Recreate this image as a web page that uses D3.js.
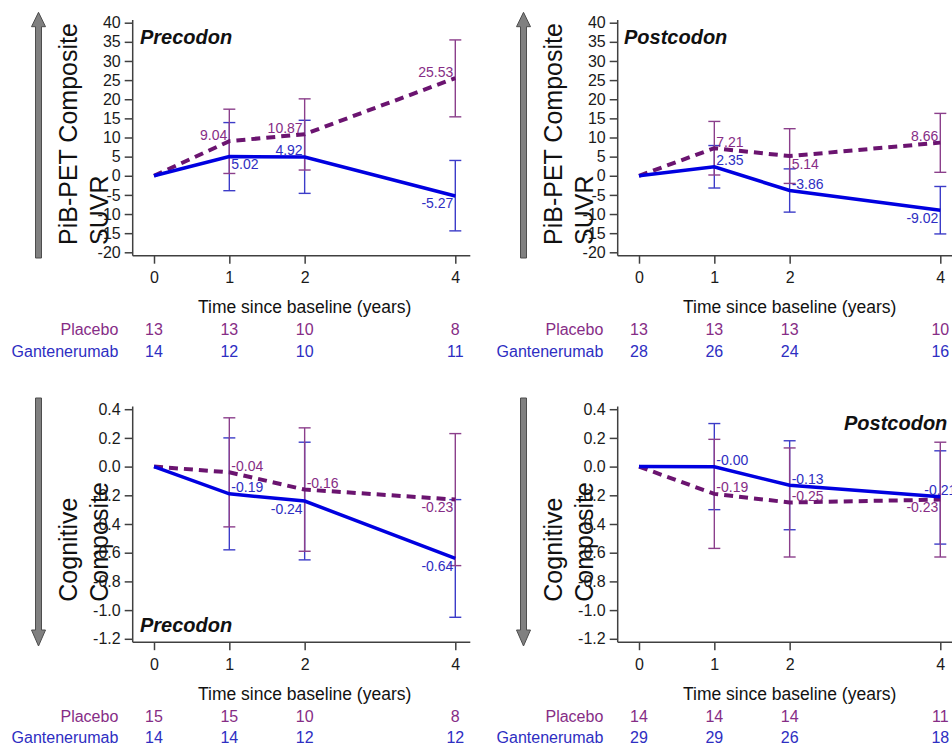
<!DOCTYPE html>
<html>
<head>
<meta charset="utf-8">
<script src="https://cdn.jsdelivr.net/npm/d3@7"></script>
<style>
  body { margin: 0; background: #fff; }
  svg text { font-family: "Liberation Sans", Arial, sans-serif; }
</style>
</head>
<body>
<div id="chart"></div>
<script>
// Time points (years since baseline)
var years = [0, 1, 2, 4];

// PiB-PET Composite SUVR, precodon
var pibPrePlacebo   = [0, 9.04, 10.87, 25.53];
var pibPrePlaceboLo = [null, 0.6, 1.5, 15.4];
var pibPrePlaceboHi = [null, 17.4, 20.1, 35.5];
var pibPreGanten    = [0, 5.02, 4.92, -5.27];
var pibPreGantenLo  = [null, -3.9, -4.6, -14.4];
var pibPreGantenHi  = [null, 13.9, 14.5, 4.0];

// PiB-PET Composite SUVR, postcodon
var pibPostPlacebo   = [0, 7.21, 5.14, 8.66];
var pibPostPlaceboLo = [null, 0.2, -2.0, 0.9];
var pibPostPlaceboHi = [null, 14.2, 12.3, 16.3];
var pibPostGanten    = [0, 2.35, -3.86, -9.02];
var pibPostGantenLo  = [null, -3.2, -9.5, -15.2];
var pibPostGantenHi  = [null, 7.9, 1.8, -2.8];

// Cognitive Composite, precodon
var cogPrePlacebo   = [0, -0.04, -0.16, -0.23];
var cogPrePlaceboLo = [null, -0.42, -0.59, -0.69];
var cogPrePlaceboHi = [null, 0.34, 0.27, 0.23];
var cogPreGanten    = [0, -0.19, -0.24, -0.64];
var cogPreGantenLo  = [null, -0.58, -0.65, -1.05];
var cogPreGantenHi  = [null, 0.20, 0.17, -0.23];

// Cognitive Composite, postcodon
var cogPostPlacebo   = [0, -0.19, -0.25, -0.23];
var cogPostPlaceboLo = [null, -0.57, -0.63, -0.63];
var cogPostPlaceboHi = [null, 0.19, 0.13, 0.17];
var cogPostGanten    = [0, -0.001, -0.13, -0.21];
var cogPostGantenLo  = [null, -0.30, -0.44, -0.54];
var cogPostGantenHi  = [null, 0.30, 0.18, 0.11];

// Numbers at risk
var pibPreNPlacebo  = [13, 13, 10, 8];
var pibPreNGanten   = [14, 12, 10, 11];
var pibPostNPlacebo = [13, 13, 13, 10];
var pibPostNGanten  = [28, 26, 24, 16];
var cogPreNPlacebo  = [15, 15, 10, 8];
var cogPreNGanten   = [14, 14, 12, 12];
var cogPostNPlacebo = [14, 14, 14, 11];
var cogPostNGanten  = [29, 29, 26, 18];

// Y axis ticks
var pibTicks = [-20, -15, -10, -5, 0, 5, 10, 15, 20, 25, 30, 35, 40];
var cogTicks = [-1.2, -1.0, -0.8, -0.6, -0.4, -0.2, 0.0, 0.2, 0.4];

var width = 952, height = 747;

var placeboLine = "#6b1470", placeboText = "#862d86", placeboBar = "#8b3f8b";
var gantenLine = "#0000e0", gantenText = "#2e2ec2", gantenBar = "#3c3cc8";

// where each value label sits next to its point: a/b = above/below, l/r/c = left/right/centre
var panels = [
    { ox: 0, oy: 0, domain: [-20, 40], ticks: pibTicks, fmt: d => d.toString(),
      title: "Precodon", titlePos: [140, 44], up: true,
      ylab: ["PiB-PET Composite", "SUVR"], ylabY: 245,
      placebo: [pibPrePlacebo, pibPrePlaceboLo, pibPrePlaceboHi], ganten: [pibPreGanten, pibPreGantenLo, pibPreGantenHi],
      nPlacebo: pibPreNPlacebo, nGanten: pibPreNGanten,
      posPlacebo: ["", "al", "al", "al"], posGanten: ["", "br", "al", "bl"] },
    { ox: 485, oy: 0, domain: [-20, 40], ticks: pibTicks, fmt: d => d.toString(),
      title: "Postcodon", titlePos: [624, 44], up: true,
      ylab: ["PiB-PET Composite", "SUVR"], ylabY: 245,
      placebo: [pibPostPlacebo, pibPostPlaceboLo, pibPostPlaceboHi], ganten: [pibPostGanten, pibPostGantenLo, pibPostGantenHi],
      nPlacebo: pibPostNPlacebo, nGanten: pibPostNGanten,
      posPlacebo: ["", "ar", "br", "al"], posGanten: ["", "ar", "ar", "bl"] },
    { ox: 0, oy: 386.5, domain: [-1.2, 0.4], ticks: cogTicks, fmt: d => d.toFixed(1),
      title: "Precodon", titlePos: [140, 632], up: false,
      ylab: ["Cognitive", "Composite"], ylabY: 215.2,
      placebo: [cogPrePlacebo, cogPrePlaceboLo, cogPrePlaceboHi], ganten: [cogPreGanten, cogPreGantenLo, cogPreGantenHi],
      nPlacebo: cogPreNPlacebo, nGanten: cogPreNGanten,
      posPlacebo: ["", "ar", "ar", "bl"], posGanten: ["", "ar", "bl", "bl"] },
    { ox: 485, oy: 386.5, domain: [-1.2, 0.4], ticks: cogTicks, fmt: d => d.toFixed(1),
      title: "Postcodon", titlePos: [844, 430], up: false,
      ylab: ["Cognitive", "Composite"], ylabY: 215.2,
      placebo: [cogPostPlacebo, cogPostPlaceboLo, cogPostPlaceboHi], ganten: [cogPostGanten, cogPostGantenLo, cogPostGantenHi],
      nPlacebo: cogPostNPlacebo, nGanten: cogPostNGanten,
      posPlacebo: ["", "ar", "ar", "bl"], posGanten: ["", "ar", "ar", "ac"] }
];

const svg = d3.select("#chart").append("svg")
    .attr("width", width)
    .attr("height", height);

svg.append("rect").attr("width", width).attr("height", height).attr("fill", "#fff");

panels.forEach(function (p) {
    var ox = p.ox, oy = p.oy;
    var x = d3.scaleLinear([0, 4], [154 + ox, 455.3 + ox]);
    var y = d3.scaleLinear(p.domain, [252.3 + oy, 22.7 + oy]);
    var axisX = 132.7 + ox, axisY = 255.7 + oy;
    var g = svg.append("g");

    // Big arrow showing direction of worsening
    var cx = 38.5 + ox, pts;
    if (p.up)
        pts = [[cx, 12.3], [cx + 7, 26.7], [cx + 3, 26.7], [cx + 3, 258], [cx - 3, 258], [cx - 3, 26.7], [cx - 7, 26.7]];
    else
        pts = [[cx, 646 - 386.5 + oy], [cx + 7, 630 - 386.5 + oy], [cx + 3, 630 - 386.5 + oy], [cx + 3, 398 - 386.5 + oy],
               [cx - 3, 398 - 386.5 + oy], [cx - 3, 630 - 386.5 + oy], [cx - 7, 630 - 386.5 + oy]];
    g.append("path")
        .attr("d", "M" + pts.join("L") + "Z")
        .attr("fill", "#808080")
        .attr("stroke", "#4d4d4d")
        .attr("stroke-width", 1);

    // Rotated y label, two lines
    p.ylab.forEach(function (t, i) {
        g.append("text")
            .attr("transform", `translate(${77 + ox + i * 31}, ${p.ylabY + oy}) rotate(-90)`)
            .attr("font-size", 25)
            .attr("fill", "#111")
            .text(t);
    });

    // Axes
    var yAxis = g.append("g")
        .attr("transform", `translate(${axisX},0)`)
        .call(d3.axisLeft(y).tickValues(p.ticks).tickSize(8).tickPadding(4).tickFormat(p.fmt));
    var xAxis = g.append("g")
        .attr("transform", `translate(0,${axisY})`)
        .call(d3.axisBottom(x).tickValues(years).tickSize(8).tickPadding(8).tickFormat(d => d));
    [yAxis, xAxis].forEach(function (a) {
        a.select(".domain").remove();
        a.selectAll(".tick line").attr("stroke", "#404040").attr("stroke-width", 1.5);
        a.selectAll(".tick text").attr("font-size", 16).attr("fill", "#1a1a1a")
            .attr("font-family", "'Liberation Sans', Arial, sans-serif");
    });
    g.append("line").attr("x1", axisX).attr("x2", axisX).attr("y1", 20 + oy).attr("y2", axisY)
        .attr("stroke", "#404040").attr("stroke-width", 1.5);
    g.append("line").attr("x1", axisX).attr("x2", x(4) + 15).attr("y1", axisY).attr("y2", axisY)
        .attr("stroke", "#404040").attr("stroke-width", 1.5);

    // X title and numbers at risk
    g.append("text")
        .attr("x", (x(0) + x(4)) / 2)
        .attr("y", 313.3 + oy)
        .attr("text-anchor", "middle")
        .attr("font-size", 17.5)
        .attr("fill", "#111")
        .text("Time since baseline (years)");

    [["Placebo", p.nPlacebo, placeboText, 335], ["Gantenerumab", p.nGanten, gantenText, 356.7]].forEach(function (r) {
        g.append("text")
            .attr("x", 118.3 + ox).attr("y", r[3] + oy)
            .attr("text-anchor", "end").attr("font-size", 16).attr("fill", r[2])
            .text(r[0]);
        g.append("g").selectAll("text")
            .data(r[1])
            .join("text")
            .attr("x", (d, i) => x(years[i]))
            .attr("y", r[3] + oy)
            .attr("text-anchor", "middle")
            .attr("font-size", 16)
            .attr("fill", r[2])
            .text(d => d);
    });

    // Panel title
    g.append("text")
        .attr("x", p.titlePos[0]).attr("y", p.titlePos[1])
        .attr("font-size", 20).attr("font-weight", "bold").attr("font-style", "italic")
        .attr("fill", "#111")
        .text(p.title);

    // Error bars (ganten first, placebo on top)
    [[p.ganten, gantenBar], [p.placebo, placeboBar]].forEach(function (s) {
        var lo = s[0][1], hi = s[0][2];
        var idx = years.map((d, i) => i).filter(i => lo[i] !== null);
        var eb = g.append("g").attr("stroke", s[1]).attr("stroke-width", 1.4);
        eb.selectAll("line.v").data(idx).join("line")
            .attr("x1", i => x(years[i])).attr("x2", i => x(years[i]))
            .attr("y1", i => y(lo[i])).attr("y2", i => y(hi[i]));
        eb.selectAll("line.lo").data(idx).join("line")
            .attr("x1", i => x(years[i]) - 6).attr("x2", i => x(years[i]) + 6)
            .attr("y1", i => y(lo[i])).attr("y2", i => y(lo[i]));
        eb.selectAll("line.hi").data(idx).join("line")
            .attr("x1", i => x(years[i]) - 6).attr("x2", i => x(years[i]) + 6)
            .attr("y1", i => y(hi[i])).attr("y2", i => y(hi[i]));
    });

    // Mean lines
    var line = d3.line().x((d, i) => x(years[i])).y(d => y(d));
    g.append("path")
        .attr("d", line(p.placebo[0]))
        .attr("fill", "none")
        .attr("stroke", placeboLine)
        .attr("stroke-width", 4)
        .attr("stroke-dasharray", "9,6");
    g.append("path")
        .attr("d", line(p.ganten[0]))
        .attr("fill", "none")
        .attr("stroke", gantenLine)
        .attr("stroke-width", 3.5);

    // Value labels
    [[p.placebo[0], p.posPlacebo, placeboText], [p.ganten[0], p.posGanten, gantenText]].forEach(function (s) {
        g.append("g").selectAll("text")
            .data(s[0].map((v, i) => ({ v: v, i: i, pos: s[1][i] })).filter(d => d.pos))
            .join("text")
            .attr("x", d => x(years[d.i]) + (d.pos[1] === "l" ? -2 : d.pos[1] === "r" ? 2 : 0))
            .attr("y", d => y(d.v) + (d.pos[0] === "a" ? -1.5 : 12.5))
            .attr("text-anchor", d => d.pos[1] === "l" ? "end" : d.pos[1] === "r" ? "start" : "middle")
            .attr("font-size", 14)
            .attr("fill", s[2])
            .text(d => d.v.toFixed(2));
    });
});
</script>
</body>
</html>
